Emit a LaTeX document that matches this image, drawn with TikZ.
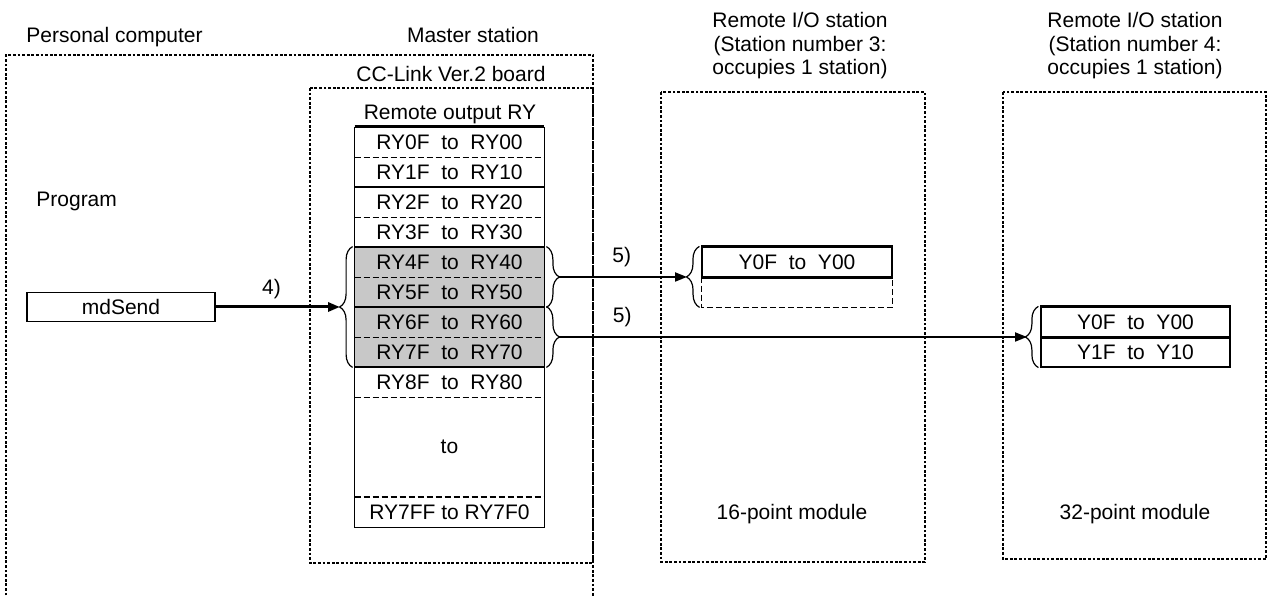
\documentclass[tikz,border=0pt]{standalone}
\usepackage{fontspec}
\setmainfont{Liberation Sans}
\usetikzlibrary{arrows.meta, decorations.pathreplacing}
\definecolor{shade}{RGB}{200,200,200}

\begin{document}
\begin{tikzpicture}[%
  x = 0.5pt, y = -0.5pt,
  font = \fontsize{10.5}{11.75}\selectfont,
  txt/.style = {inner sep = 0pt},
  row/.style = {inner sep = 0pt, minimum width = 94.5pt, minimum height = 15pt},
  shaded/.style = {row, fill = shade},
  frame/.style = {line width = 0.9pt, dash pattern = on 1.4pt off 0.9pt},
  thinline/.style = {line width = 0.6pt},
  thickline/.style = {line width = 1.1pt},
  dashline/.style = {line width = 0.5pt, dash pattern = on 3pt off 1.5pt},
  curly/.style = {decorate, decoration = {brace, amplitude = 6.5pt}, line width = 0.6pt},
  link/.style = {-{Triangle[length = 6pt, width = 4.5pt]}, line width = 1pt}]
  \useasboundingbox (0,0) rectangle (1271,597);

  % dotted frames
  \draw[frame] (6,600) -- (6,55) -- (593,55) -- (593,600);
  \draw[frame] (310,88) rectangle (593,563);
  \draw[frame] (661,92) rectangle (925,562);
  \draw[frame] (1003,92) rectangle (1266,559);

  % headings
  \node[txt, anchor = base west] (pc) at (26,43) {Personal computer};
  \node[txt, anchor = base] (master) at (473,43) {Master station};
  \node[txt, anchor = base] (board) at (451,82) {CC-Link Ver.2 board};
  \node[txt, anchor = base] (ryhead) at (450,120) {Remote output RY};
  \node[txt, anchor = base west] (prog) at (36,207) {Program};
  \node[txt, align = center] (rio3) at (800,46) {Remote I/O station\\(Station number 3:\\occupies 1 station)};
  \node[txt, align = center] (rio4) at (1135,46) {Remote I/O station\\(Station number 4:\\occupies 1 station)};
  \node[txt, anchor = base] (mod16) at (792,520) {16-point module};
  \node[txt, anchor = base] (mod32) at (1135,520) {32-point module};

  \node[row, draw, thinline, minimum width = 94pt, minimum height = 14.5pt] (send) at (121,307) {mdSend};

  % remote output table
  \node[row] (ry0) at (449.5,142) {RY0F~~to~~RY00};
  \node[row] (ry1) at (449.5,172) {RY1F~~to~~RY10};
  \node[row] (ry2) at (449.5,202) {RY2F~~to~~RY20};
  \node[row] (ry3) at (449.5,232) {RY3F~~to~~RY30};
  \node[shaded] (ry4) at (449.5,262) {RY4F~~to~~RY40};
  \node[shaded] (ry5) at (449.5,292) {RY5F~~to~~RY50};
  \node[shaded] (ry6) at (449.5,322) {RY6F~~to~~RY60};
  \node[shaded] (ry7) at (449.5,352) {RY7F~~to~~RY70};
  \node[row] (ry8) at (449.5,382) {RY8F~~to~~RY80};
  \node[row, minimum height = 50pt] (rymid) at (449.5,447) {to};
  \node[row] (ryend) at (449.5,512) {RY7FF to RY7F0};

  \draw[thinline] (ry0.north west) -- (ryend.south west) -- (ryend.south east) -- (ry0.north east);
  \draw[thickline] (ry0.north west) -- (ry0.north east);
  \draw[dashline] (ry0.south west) -- (ry0.south east);
  \draw[thickline] (ry1.south west) -- (ry1.south east);
  \draw[dashline] (ry2.south west) -- (ry2.south east);
  \draw[thickline] (ry3.south west) -- (ry3.south east);
  \draw[dashline] (ry4.south west) -- (ry4.south east);
  \draw[thickline] (ry5.south west) -- (ry5.south east);
  \draw[dashline] (ry6.south west) -- (ry6.south east);
  \draw[thickline] (ry7.south west) -- (ry7.south east);
  \draw[dashline] (ry8.south west) -- (ry8.south east);
  \draw[dashline, line width = 1pt] (rymid.south west) -- (rymid.south east);

  % station 3
  \node[row, draw, thinline, minimum width = 95pt] (y0a) at (797,262) {Y0F~~to~~Y00};
  \node[row, minimum width = 95pt] (y1a) at (797,292) {};
  \draw[thickline] (y0a.north west) -- (y0a.north east);
  \draw[thickline] (y0a.south west) -- (y0a.south east);
  \draw[dashline] (y1a.north west) -- (y1a.south west) -- (y1a.south east) -- (y1a.north east);

  % station 4
  \node[row, draw, thinline] (y0b) at (1135.5,322) {Y0F~~to~~Y00};
  \node[row, draw, thinline] (y1b) at (1135.5,352) {Y1F~~to~~Y10};
  \draw[thickline] (y0b.north west) -- (y0b.north east);
  \draw[thickline] (y0b.south west) -- (y0b.south east);

  % braces
  \draw[curly] ([xshift = -1pt]ry7.south west) -- ([xshift = -1pt]ry4.north west);
  \draw[curly] ([xshift = 1pt]ry4.north east) -- ([xshift = 1pt]ry5.south east);
  \draw[curly] ([xshift = 1pt]ry6.north east) -- ([xshift = 1pt]ry7.south east);
  \draw[curly] ([xshift = -1pt]y1a.south west) -- ([xshift = -1pt]y0a.north west);
  \draw[curly] ([xshift = -1pt]y1b.south west) -- ([xshift = -1pt]y0b.north west);
  \coordinate (lb) at (340,307);
  \coordinate (rb1) at (559,277);
  \coordinate (rb2) at (559,337);
  \coordinate (sb3) at (687,277);
  \coordinate (sb4) at (1027,337);

  \draw[link, line width = 1.5pt] (send) -- (lb) node[pos = 0.45, above] (step4) {4)};
  \draw[link] (rb1) -- (sb3) node[pos = 0.49, above, inner sep = 4.8pt] (step5a) {5)};
  \draw[link] (rb2) -- (sb4) node[pos = 0.135, above, inner sep = 4.8pt] (step5b) {5)};
\end{tikzpicture}
\end{document}
